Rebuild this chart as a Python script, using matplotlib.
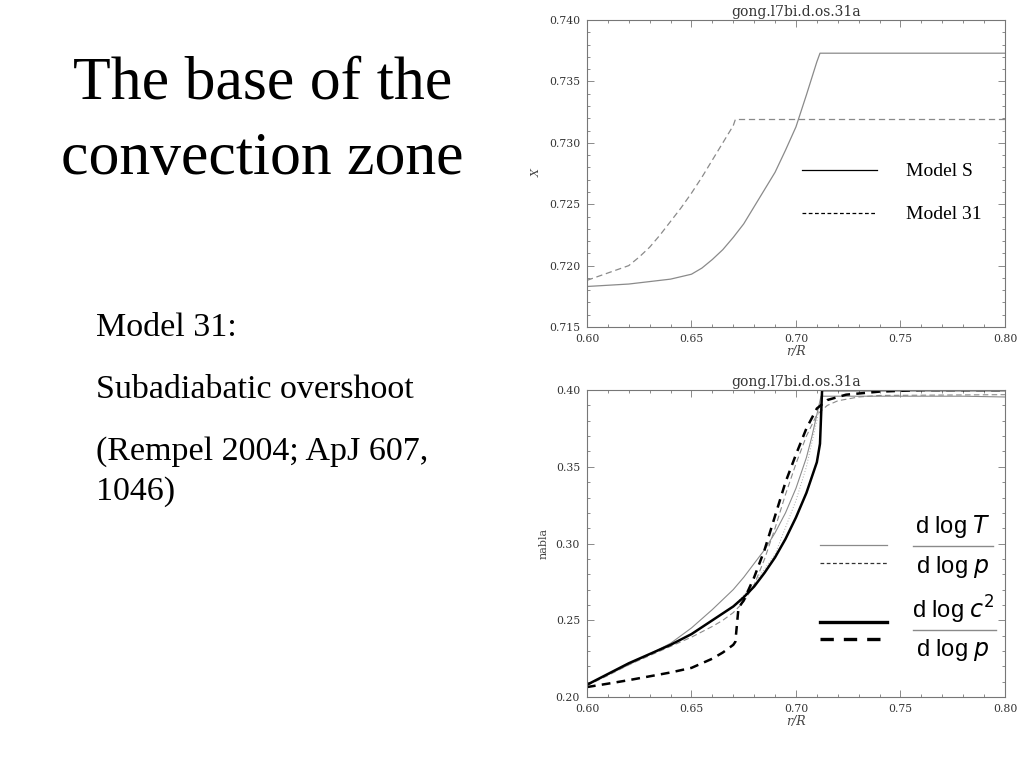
import matplotlib
matplotlib.use("Agg")
import matplotlib.pyplot as plt
from matplotlib.ticker import MultipleLocator, FormatStrFormatter

# ---------------- data ----------------
# Top panel: hydrogen abundance X vs r/R
xS_top = [0.600, 0.610, 0.620, 0.630, 0.640, 0.650, 0.655, 0.660, 0.665, 0.670, 0.675, 0.680,
          0.685, 0.690, 0.695, 0.700, 0.705, 0.710, 0.7115, 0.800]
yS_top = [0.7183, 0.7184, 0.7185, 0.7187, 0.7189, 0.7193, 0.7198, 0.7205, 0.7213, 0.7223, 0.7234,
          0.7248, 0.7262, 0.7276, 0.7294, 0.7313, 0.7339, 0.7366, 0.7373, 0.7373]
x31_top = [0.600, 0.605, 0.610, 0.615, 0.620, 0.625, 0.630, 0.635, 0.640, 0.645, 0.650, 0.655,
           0.660, 0.665, 0.670, 0.671, 0.800]
y31_top = [0.7188, 0.7191, 0.7194, 0.7197, 0.7200, 0.7207, 0.7215, 0.7225, 0.7236, 0.7247, 0.7259,
           0.7272, 0.7286, 0.7300, 0.7314, 0.7319, 0.7319]

# Bottom panel: gradients
xS_c2 = [0.600, 0.610, 0.615, 0.620, 0.625, 0.630, 0.635, 0.640, 0.645, 0.650, 0.655, 0.660,
         0.665, 0.670, 0.675, 0.680, 0.685, 0.690, 0.695, 0.700, 0.705, 0.710, 0.7115, 0.7125, 0.800]
yS_c2 = [0.208, 0.215, 0.2185, 0.222, 0.225, 0.228, 0.231, 0.234, 0.2375, 0.241, 0.2455, 0.250,
         0.2545, 0.259, 0.265, 0.272, 0.281, 0.291, 0.303, 0.317, 0.333, 0.353, 0.365, 0.400, 0.400]

xS_T = [0.600, 0.610, 0.620, 0.630, 0.640, 0.645, 0.650, 0.655, 0.660, 0.665, 0.670, 0.675,
        0.680, 0.685, 0.690, 0.695, 0.700, 0.705, 0.7075, 0.710, 0.712, 0.780, 0.800]
yS_T = [0.208, 0.2145, 0.221, 0.228, 0.235, 0.240, 0.245, 0.251, 0.257, 0.2635, 0.270, 0.278,
        0.287, 0.296, 0.307, 0.320, 0.336, 0.356, 0.369, 0.384, 0.396, 0.396, 0.3955]

x31_c2 = [0.600, 0.610, 0.620, 0.630, 0.640, 0.645, 0.650, 0.655, 0.660, 0.665, 0.670, 0.671,
          0.6725, 0.675, 0.680, 0.685, 0.690, 0.695, 0.700, 0.705, 0.710, 0.715, 0.724, 0.740,
          0.760, 0.800]
y31_c2 = [0.2065, 0.2087, 0.211, 0.2135, 0.216, 0.2175, 0.219, 0.222, 0.225, 0.229, 0.234, 0.236,
          0.258, 0.263, 0.278, 0.296, 0.318, 0.340, 0.358, 0.375, 0.388, 0.3935, 0.397, 0.399,
          0.400, 0.400]

x31_T = [0.600, 0.610, 0.620, 0.630, 0.640, 0.645, 0.650, 0.655, 0.660, 0.665, 0.670, 0.675,
         0.680, 0.685, 0.690, 0.695, 0.700, 0.705, 0.710, 0.715, 0.720, 0.730, 0.740, 0.800]
y31_T = [0.2075, 0.214, 0.221, 0.227, 0.233, 0.236, 0.239, 0.2425, 0.246, 0.250, 0.255, 0.262,
         0.273, 0.290, 0.310, 0.332, 0.352, 0.370, 0.384, 0.390, 0.393, 0.3955, 0.3965, 0.397]

x_dot = [0.670, 0.680, 0.690, 0.700, 0.705, 0.710, 0.7115, 0.713]
y_dot = [0.259, 0.274, 0.293, 0.328, 0.350, 0.380, 0.392, 0.397]

title_txt = "gong.l7bi.d.os.31a"
heading = ["The base of the", "convection zone"]
body = ["Model 31:", "Subadiabatic overshoot", "(Rempel 2004; ApJ 607,", "1046)"]

# ---------------- figure ----------------
fig = plt.figure(figsize=(10.24, 7.68), dpi=100)
fig.patch.set_facecolor("white")
plt.rcParams["mathtext.fontset"] = "dejavusans"

GRAY = "#8a8a8a"
SPINE = "#777777"

def style_axes(ax):
    for s in ax.spines.values():
        s.set_color(SPINE)
        s.set_linewidth(0.8)
    ax.set_xlim(0.60, 0.80)
    ax.xaxis.set_major_locator(MultipleLocator(0.05))
    ax.xaxis.set_minor_locator(MultipleLocator(0.01))
    ax.xaxis.set_major_formatter(FormatStrFormatter("%.2f"))
    ax.tick_params(which="both", direction="in", top=True, right=True, colors=SPINE,
                   labelcolor="#333333", width=0.6)
    ax.tick_params(which="major", length=5, pad=5)
    ax.tick_params(which="minor", length=2.5)
    for lab in ax.get_xticklabels() + ax.get_yticklabels():
        lab.set_fontfamily("DejaVu Serif")
        lab.set_fontsize(7.8)
    ax.set_title(title_txt, family="DejaVu Serif", fontsize=10, color="#333333", pad=3)
    ax.set_xlabel("r/R", family="DejaVu Serif", style="italic", fontsize=9, color="#444444", labelpad=1)

# ---- top axes ----
ax1 = fig.add_axes([0.5732, 0.5742, 0.4082, 0.3997])
ax1.plot(xS_top, yS_top, color=GRAY, lw=0.9)
ax1.plot(x31_top, y31_top, color=GRAY, lw=0.9, ls=(0, (5, 3)))
ax1.set_ylim(0.715, 0.740)
ax1.yaxis.set_major_locator(MultipleLocator(0.005))
ax1.yaxis.set_minor_locator(MultipleLocator(0.001))
ax1.yaxis.set_major_formatter(FormatStrFormatter("%.3f"))
style_axes(ax1)
ax1.set_ylabel("X", family="DejaVu Serif", style="italic", fontsize=8, color="#444444", labelpad=5)
ax1.plot([0.514, 0.694], [0.511, 0.511], transform=ax1.transAxes, color="black", lw=0.9)
ax1.plot([0.514, 0.694], [0.371, 0.371], transform=ax1.transAxes, color="black", lw=0.9, ls=(0, (3, 2)))
ax1.text(0.763, 0.508, "Model S", transform=ax1.transAxes, family="Liberation Serif",
         fontsize=14, va="center", ha="left")
ax1.text(0.763, 0.368, "Model 31", transform=ax1.transAxes, family="Liberation Serif",
         fontsize=14, va="center", ha="left")

# ---- bottom axes ----
ax2 = fig.add_axes([0.5732, 0.0924, 0.4082, 0.3997])
ax2.plot(xS_T, yS_T, color=GRAY, lw=0.8)
ax2.plot(x31_T, y31_T, color=GRAY, lw=0.8, ls=(0, (5, 3)))
ax2.plot(x_dot, y_dot, color="#aaaaaa", lw=0.7, ls=(0, (1, 2)))
ax2.plot(xS_c2, yS_c2, color="black", lw=1.8)
ax2.plot(x31_c2, y31_c2, color="black", lw=1.8, ls=(0, (3.5, 2.5)))
ax2.set_ylim(0.20, 0.40)
ax2.yaxis.set_major_locator(MultipleLocator(0.05))
ax2.yaxis.set_minor_locator(MultipleLocator(0.01))
ax2.yaxis.set_major_formatter(FormatStrFormatter("%.2f"))
style_axes(ax2)
ax2.set_ylabel("nabla", family="DejaVu Serif", fontsize=8, color="#444444", labelpad=5)

# legend for bottom axes
ax2.plot([0.557, 0.718], [0.495, 0.495], transform=ax2.transAxes, color=GRAY, lw=0.9)
ax2.plot([0.557, 0.718], [0.436, 0.436], transform=ax2.transAxes, color="#333333", lw=0.9, ls=(0, (3, 2)))
ax2.plot([0.557, 0.718], [0.244, 0.244], transform=ax2.transAxes, color="black", lw=2.4)
ax2.plot([0.557, 0.718], [0.189, 0.189], transform=ax2.transAxes, color="black", lw=2.4, ls=(0, (4, 3)))

frac_kw = dict(transform=ax2.transAxes, family="Liberation Sans", fontsize=17, ha="center", va="center")
ax2.text(0.876, 0.555, r"d log $T$", **frac_kw)
ax2.plot([0.780, 0.971], [0.492, 0.492], transform=ax2.transAxes, color=GRAY, lw=1.0)
ax2.text(0.876, 0.425, r"d log $p$", **frac_kw)
ax2.text(0.876, 0.283, r"d log $c^2$", **frac_kw)
ax2.plot([0.780, 0.978], [0.218, 0.218], transform=ax2.transAxes, color=GRAY, lw=1.0)
ax2.text(0.876, 0.152, r"d log $p$", **frac_kw)

# ---- left slide text ----
heading_y = [0.872, 0.773]
for t, yy in zip(heading, heading_y):
    fig.text(0.256, yy, t, family="Liberation Serif", fontsize=44.5, ha="center", va="baseline")
body_y = [0.562, 0.482, 0.401, 0.349]
for t, yy in zip(body, body_y):
    fig.text(0.094, yy, t, family="Liberation Serif", fontsize=24.5, ha="left", va="baseline")

fig.savefig("out.png", dpi=100, facecolor="white")
